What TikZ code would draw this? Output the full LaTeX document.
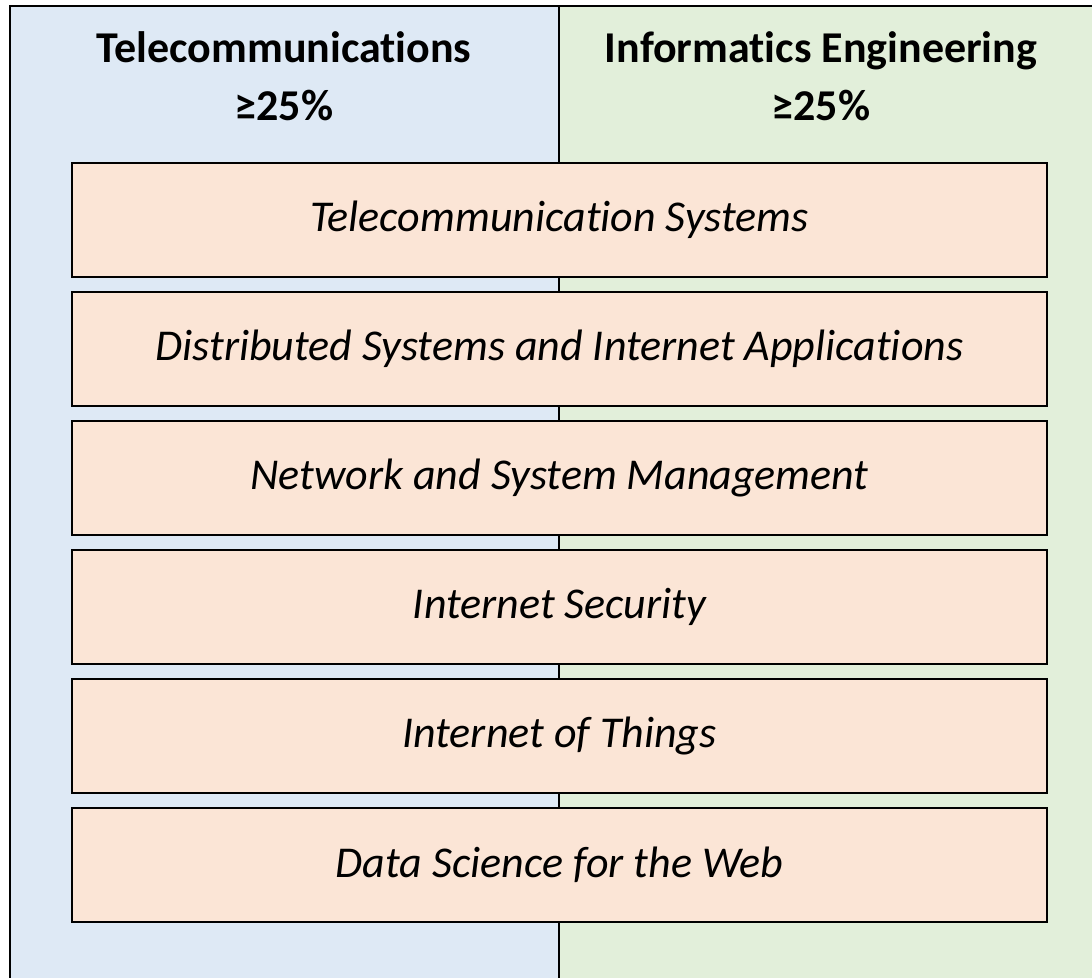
\documentclass[tikz,border=0pt]{standalone}
\usepackage{fontspec}
\setmainfont{Carlito}[RawFeature=-liga]
\usetikzlibrary{positioning}

\definecolor{telblue}{HTML}{DEE9F5}
\definecolor{infgreen}{HTML}{E2EFDA}
\definecolor{unitorange}{HTML}{FBE5D6}

\tikzset{
	head/.style={font=\fontsize{44}{58}\selectfont\bfseries,align=center},
	unit/.style={draw,line width=2.5pt,fill=unitorange,minimum width=975pt,minimum height=114pt,font=\fontsize{44}{50}\selectfont\itshape,inner sep=0pt}
}

\begin{document}
\begin{tikzpicture}[x=1pt,y=-1pt]
	\useasboundingbox (0,0) rectangle (1092,977);
	\fill[telblue] (10,6) rectangle (559,990);
	\fill[infgreen] (559,6) rectangle (1100,990);
	\draw[line width=2.5pt] (10,990) -- (10,6) -- (1100,6);
	\draw[line width=2pt] (559,6) -- (559,990);
	
	\node[head](telecom) at (284,76){Telecommunications\\≥25\%};
	\node[head](informatics) at (821,76){Informatics Engineering\\≥25\%};
	
	\node[unit](systems) at (559.5,220){Telecommunication Systems};
	\node[unit,below=12.5pt of systems](distributed){Distributed Systems and Internet Applications};
	\node[unit,below=12.5pt of distributed](netmgmt){Network and System Management};
	\node[unit,below=12.5pt of netmgmt](security){Internet Security};
	\node[unit,below=12.5pt of security](iot){Internet of Things};
	\node[unit,below=12.5pt of iot](datasci){Data Science for the Web};
\end{tikzpicture}
\end{document}
